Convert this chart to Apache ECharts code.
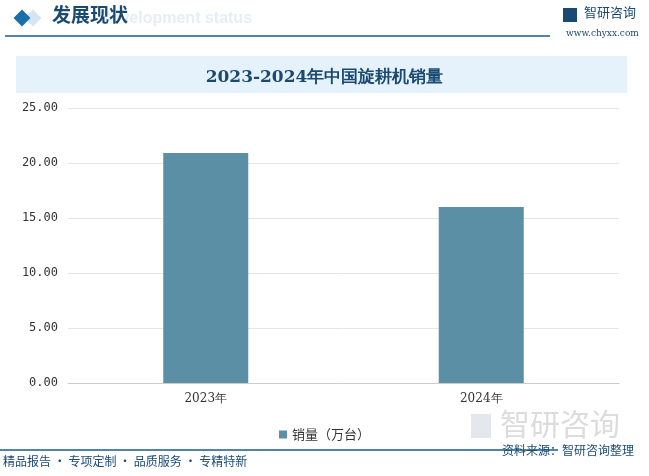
<!DOCTYPE html><html><head><meta charset="utf-8"><script src="https://cdn.jsdelivr.net/npm/echarts@6/dist/echarts.min.js"></script>
<style>body{margin:0}#c{width:649px;height:476px}</style></head><body><div id="c"></div><script>
const categories=['2023年','2024年'];
const sales=[20.9,16.0];
const seriesName='销量（万台）';
const chart=echarts.init(document.getElementById('c'));
chart.setOption({
animation:false,backgroundColor:'#fff',
title:{text:'2023-2024年中国旋耕机销量',left:'center',top:64,textStyle:{fontFamily:'DejaVu Serif',fontSize:17,color:'#1a4a72',fontWeight:'bold'}},
graphic:[
{type:'rect',shape:{x:16,y:56,width:611,height:37},style:{fill:'#e6f2fb'},z:-1},
{type:'rect',shape:{x:-6,y:-6,width:12,height:12},rotation:Math.PI/4,x:22,y:18,style:{fill:'#1a6fa8'}},
{type:'rect',shape:{x:-6,y:-6,width:12,height:12},rotation:Math.PI/4,x:33,y:18,style:{fill:'#d5e6f2'},z:-1},
{type:'text',left:52,top:5,style:{text:'发展现状',font:'bold 19px "Noto Sans CJK SC"',fill:'#1a4a72'}},
{type:'text',left:100,top:11,style:{text:'Development status',font:'bold 16px sans-serif',fill:'#e6eef5'},z:-2},
{type:'line',shape:{x1:5,y1:36,x2:550,y2:36},style:{stroke:'#1a5a8a',lineWidth:1.5}},
{type:'text',left:584,top:6,style:{text:'智研咨询',font:'13px "Noto Sans CJK SC"',fill:'#1a4a72'}},
{type:'rect',shape:{x:563,y:8,width:14,height:14},style:{fill:'#1a4a72'}},
{type:'text',left:566,top:29,style:{text:'www.chyxx.com',font:'9px "DejaVu Serif"',fill:'#1a4a72'}},
{type:'line',shape:{x1:0,y1:450,x2:558,y2:450},style:{stroke:'#1a5a8a',lineWidth:1.5}},
{type:'text',left:3,top:455,style:{text:'精品报告 · 专项定制 · 品质服务 · 专精特新',font:'12px "Noto Sans CJK SC"',fill:'#1a4a72'}},
{type:'rect',shape:{x:471,y:414,width:20,height:24},style:{fill:'#e4e8ec'},z:-1},
{type:'text',left:500,top:409,style:{text:'智研咨询',font:'30px "Noto Sans CJK SC"',fill:'#dcdcdc'},z:-1},
{type:'text',left:502,top:444,style:{text:'资料来源：智研咨询整理',font:'12px "Noto Sans CJK SC"',fill:'#1a4a72'}}
],
legend:{top:423,left:'center',itemWidth:8,itemHeight:8,icon:'rect',textStyle:{fontSize:13,fontFamily:'Noto Sans CJK SC',color:'#333'}},
grid:{left:68,right:30,top:108,bottom:93},
xAxis:{type:'category',data:categories,axisTick:{show:false},axisLine:{lineStyle:{color:'#ccc'}},axisLabel:{fontSize:12,color:'#333',fontFamily:'DejaVu Serif',margin:10}},
yAxis:{type:'value',min:0,max:25,interval:5,axisLabel:{formatter:v=>v.toFixed(2),fontSize:12,color:'#333',fontFamily:'DejaVu Sans Mono',margin:10},splitLine:{lineStyle:{color:'#e6e6e6'}}},
series:[{name:seriesName,type:'bar',data:sales,barWidth:85,itemStyle:{color:'#5b8fa6'}}]
});
</script></body></html>
